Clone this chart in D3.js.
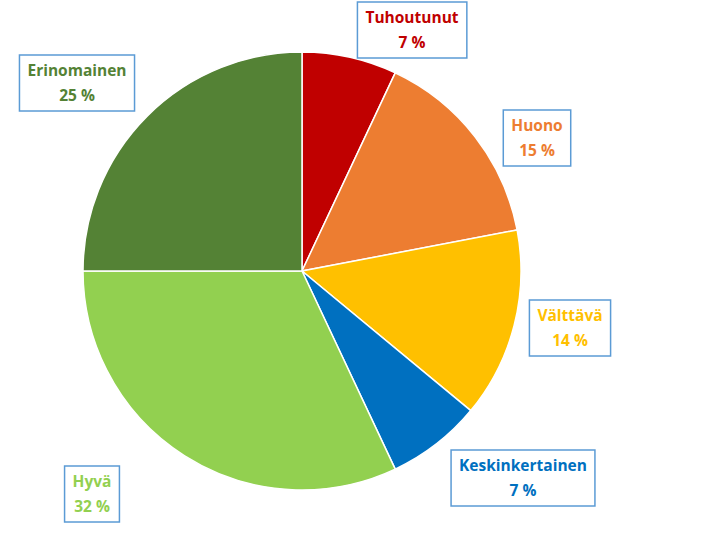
<!DOCTYPE html>
<html><head><meta charset="utf-8">
<script src="https://cdn.jsdelivr.net/npm/d3@7"></script>
<style>body{margin:0;background:#fff}</style></head>
<body><svg id="c" width="723" height="538"></svg>
<script>
const categories = ["Tuhoutunut","Huono","Välttävä","Keskinkertainen","Hyvä","Erinomainen"];
const values = [7,15,14,7,32,25];
const colors = ["#C00000","#ED7D31","#FFC000","#0070C0","#92D050","#548235"];
const labelPos = [[412,30],[537,138],[570,328],[523,478],[92,494],[77,83]];

const svg = d3.select("#c");
const g = svg.append("g").attr("transform","translate(302,271)");
const pie = d3.pie().sort(null).value(d=>d);
const arc = d3.arc().innerRadius(0).outerRadius(219);
g.selectAll("path").data(pie(values)).join("path")
  .attr("d",arc).attr("fill",(d,i)=>colors[i]).attr("stroke","#fff").attr("stroke-width",1.5);

categories.forEach((c,i)=>{
  const [x,y]=labelPos[i];
  const lg=svg.append("g");
  const t=lg.append("text").attr("x",x).attr("y",y).attr("text-anchor","middle")
    .attr("font-family","'Open Sans',sans-serif").attr("font-weight","bold").attr("font-size",15.5)
    .attr("fill",colors[i]);
  t.append("tspan").attr("x",x).attr("dy",-7).text(c);
  t.append("tspan").attr("x",x).attr("dy",25).text(values[i]+" %");
  const b=t.node().getBBox();
  lg.insert("rect","text").attr("x",b.x-8).attr("y",y-28).attr("width",b.width+16).attr("height",56)
    .attr("fill","#fff").attr("stroke","#5B9BD5").attr("stroke-width",1.5);
});
</script></body></html>
